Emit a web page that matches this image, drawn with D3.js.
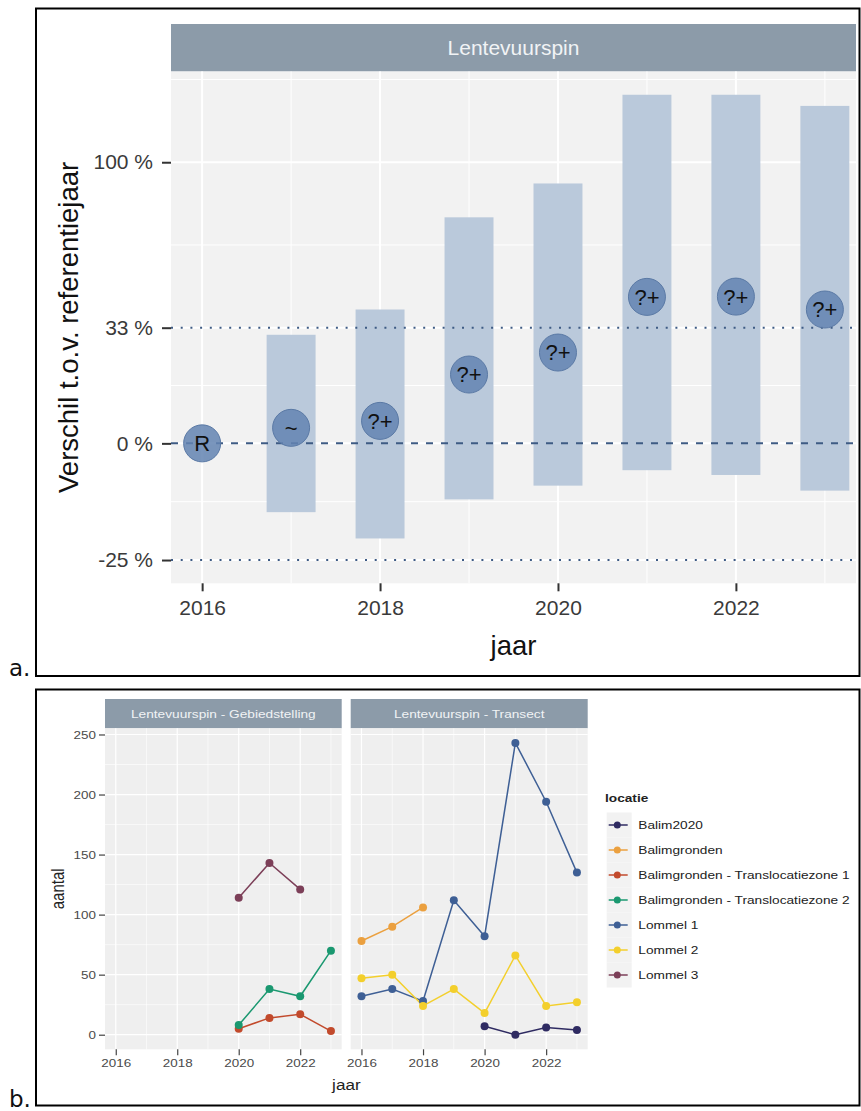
<!DOCTYPE html>
<html>
<head>
<meta charset="utf-8">
<script src="https://cdn.jsdelivr.net/npm/d3@7"></script>
<style>
  body { margin: 0; background: #ffffff; }
  svg { display: block; font-family: "Liberation Sans", Arial, "Helvetica", sans-serif; }
</style>
</head>
<body>
<svg id="fig" width="861" height="1111"></svg>
<script>
// ---------- Panel a: trend relative to reference year ----------
const trendYears    = [2016, 2017, 2018, 2019, 2020, 2021, 2022, 2023];
const trendEstimate = [0, 0.039, 0.057, 0.185, 0.251, 0.435, 0.436, 0.391];
const trendLower    = [null, -0.156, -0.209, -0.129, -0.099, -0.064, -0.075, -0.110];
const trendUpper    = [null, 0.307, 0.391, 0.746, 0.898, 1.362, 1.362, 1.298];
const trendClass    = ["R", "~", "?+", "?+", "?+", "?+", "?+", "?+"];
const refLineValues = [-0.25, 0, 0.33];
const refLineTypes  = ["dotted", "dashed", "dotted"];
const pctTickValues = [-0.25, 0, 0.33, 1];
const pctTickLabels = ["-25 %", "0 %", "33 %", "100 %"];
const yearTicks     = [2016, 2018, 2020, 2022];
const yearMinor     = [2017, 2019, 2021, 2023];

// ---------- Panel b: counts per location ----------
const facetNames = ["Lentevuurspin - Gebiedstelling", "Lentevuurspin - Transect"];
const locaties = ["Balim2020", "Balimgronden", "Balimgronden - Translocatiezone 1",
                  "Balimgronden - Translocatiezone 2", "Lommel 1", "Lommel 2", "Lommel 3"];
const locatieColors = ["#2f2b62", "#eba03f", "#c24a2c", "#1a9870", "#3e5f95", "#f3cf2c", "#7c3f58"];

const years2016to2023 = [2016, 2017, 2018, 2019, 2020, 2021, 2022, 2023];
const years2016to2018 = [2016, 2017, 2018];
const years2020to2023 = [2020, 2021, 2022, 2023];
const years2020to2022 = [2020, 2021, 2022];

const balim2020Aantal    = [7, 0, 6, 4];                        // Transect
const balimgrondenAantal = [78, 90, 106];                       // Transect
const zone1Aantal        = [5, 14, 17, 3];                      // Gebiedstelling
const zone2Aantal        = [8, 38, 32, 70];                     // Gebiedstelling
const lommel1Aantal      = [32, 38, 28, 112, 82, 243, 194, 135];// Transect
const lommel2Aantal      = [47, 50, 24, 38, 18, 66, 24, 27];    // Transect
const lommel3Aantal      = [114, 143, 121];                     // Gebiedstelling
const countTicks = [0, 50, 100, 150, 200, 250];
const countMinor = [25, 75, 125, 175, 225];

// series table built from the arrays above (facet index, location index)
const series = [
  { facet: 1, loc: 0, years: years2020to2023, values: balim2020Aantal },
  { facet: 1, loc: 1, years: years2016to2018, values: balimgrondenAantal },
  { facet: 0, loc: 2, years: years2020to2023, values: zone1Aantal },
  { facet: 0, loc: 3, years: years2020to2023, values: zone2Aantal },
  { facet: 1, loc: 4, years: years2016to2023, values: lommel1Aantal },
  { facet: 1, loc: 5, years: years2016to2023, values: lommel2Aantal },
  { facet: 0, loc: 6, years: years2020to2022, values: lommel3Aantal }
];

// ---------- helpers ----------
const svg = d3.select("#fig");
const expand = ([a, b], f = 0.05) => { const d = (b - a) * f; return [a - d, b + d]; };
const STRIP = "#8c9ba9";
const STRIP_TXT = "#f1f3f5";
const TXT = "#3a3a3a";

// ============================================================
// Panel a
// ============================================================
const A = { left: 171, right: 856, top: 71.5, bottom: 583.3, stripTop: 24 };
const gA = svg.append("g");

const xA = d3.scaleLinear().domain(expand([2016, 2023])).range([A.left, A.right]);
const ratioLn = trendLower.concat(trendUpper, refLineValues, trendEstimate)
  .filter(v => v !== null).map(v => Math.log(1 + v));
const lnDom = expand(d3.extent(ratioLn));
const yA = d3.scaleLog().domain(lnDom.map(Math.exp)).range([A.bottom, A.top]);
const yPct = v => yA(1 + v);

// strip + panel background
gA.append("rect").attr("x", A.left).attr("y", A.stripTop)
  .attr("width", A.right - A.left).attr("height", A.top - A.stripTop).attr("fill", STRIP);
gA.append("text").attr("x", (A.left + A.right) / 2).attr("y", (A.stripTop + A.top) / 2)
  .attr("dy", "0.36em").attr("text-anchor", "middle")
  .attr("font-size", 21).attr("fill", STRIP_TXT).text("Lentevuurspin");
gA.append("rect").attr("x", A.left).attr("y", A.top)
  .attr("width", A.right - A.left).attr("height", A.bottom - A.top).attr("fill", "#f2f2f2");

// grid: minor (midpoints on the log scale) then major
const lnTicks = pctTickValues.map(v => Math.log(1 + v));
const lnMinor = [];
for (let i = 0; i < lnTicks.length - 1; i++) lnMinor.push((lnTicks[i] + lnTicks[i + 1]) / 2);
lnMinor.push(lnTicks[lnTicks.length - 1] + (lnTicks[lnTicks.length - 1] - lnTicks[lnTicks.length - 2]) / 2);
const grid = gA.append("g");
grid.selectAll(".hmin").data(lnMinor.filter(l => l > lnDom[0] && l < lnDom[1])).join("line")
  .attr("x1", A.left).attr("x2", A.right)
  .attr("y1", l => yA(Math.exp(l))).attr("y2", l => yA(Math.exp(l)))
  .attr("stroke", "#ffffff").attr("stroke-width", 1);
grid.selectAll(".vmin").data(yearMinor).join("line")
  .attr("x1", d => xA(d)).attr("x2", d => xA(d)).attr("y1", A.top).attr("y2", A.bottom)
  .attr("stroke", "#ffffff").attr("stroke-width", 1);
grid.selectAll(".hmaj").data(pctTickValues).join("line")
  .attr("x1", A.left).attr("x2", A.right).attr("y1", d => yPct(d)).attr("y2", d => yPct(d))
  .attr("stroke", "#ffffff").attr("stroke-width", 2);
grid.selectAll(".vmaj").data(yearTicks).join("line")
  .attr("x1", d => xA(d)).attr("x2", d => xA(d)).attr("y1", A.top).attr("y2", A.bottom)
  .attr("stroke", "#ffffff").attr("stroke-width", 2);

// interval bars
const halfW = 0.275;
const trendRows = trendYears.map((yr, i) => ({
  yr, est: trendEstimate[i], lo: trendLower[i], hi: trendUpper[i], cls: trendClass[i]
}));
gA.append("g").selectAll("rect").data(trendRows.filter(d => d.lo !== null)).join("rect")
  .attr("x", d => xA(d.yr - halfW))
  .attr("width", d => xA(d.yr + halfW) - xA(d.yr - halfW))
  .attr("y", d => yPct(d.hi))
  .attr("height", d => yPct(d.lo) - yPct(d.hi))
  .attr("fill", "#b6c6d9").attr("fill-opacity", 0.95);

// reference lines, drawn over the bars
const dashFor = { dotted: "2,7.7", dashed: "7,8" };
gA.append("g").selectAll("line").data(refLineValues).join("line")
  .attr("x1", A.left).attr("x2", A.right)
  .attr("y1", d => yPct(d)).attr("y2", d => yPct(d))
  .attr("stroke", "#3e5b84").attr("stroke-width", 2)
  .attr("stroke-dasharray", (d, i) => dashFor[refLineTypes[i]]);

// estimate circles with class labels
const pts = gA.append("g").selectAll("g").data(trendRows).join("g")
  .attr("transform", d => `translate(${xA(d.yr)},${yPct(d.est)})`);
pts.append("circle").attr("r", 18.5)
  .attr("fill", "#6384b2").attr("fill-opacity", 0.85)
  .attr("stroke", "#5a79a5").attr("stroke-width", 1);
pts.append("text").attr("text-anchor", "middle").attr("dy", "0.36em")
  .attr("font-size", 22).attr("fill", "#111").text(d => d.cls);

// axes
const axYA = gA.append("g").attr("transform", `translate(${A.left},0)`)
  .call(d3.axisLeft(yA).tickValues(pctTickValues.map(v => 1 + v))
    .tickFormat((d, i) => pctTickLabels[i]).tickSize(9).tickPadding(9));
const axXA = gA.append("g").attr("transform", `translate(0,${A.bottom})`)
  .call(d3.axisBottom(xA).tickValues(yearTicks).tickFormat(d3.format("d"))
    .tickSize(8).tickPadding(9));
[axYA, axXA].forEach(ax => {
  ax.select(".domain").remove();
  ax.selectAll(".tick line").attr("stroke", "#333").attr("stroke-width", 2);
  ax.selectAll(".tick text").attr("font-size", 21).attr("fill", TXT)
    .attr("font-family", "'Liberation Sans', Arial, sans-serif");
});

gA.append("text").attr("x", (A.left + A.right) / 2).attr("y", 655)
  .attr("text-anchor", "middle").attr("font-size", 27.5).attr("fill", "#111").text("jaar");
gA.append("text").attr("transform", `translate(78,${(A.top + A.bottom) / 2}) rotate(-90)`)
  .attr("text-anchor", "middle").attr("font-size", 27.5).attr("fill", "#111")
  .text("Verschil t.o.v. referentiejaar");

// ============================================================
// Panel b (this figure is slightly stretched horizontally)
// ============================================================
const SX = 1.18;
const B = { top: 728.3, bottom: 1049.3, stripTop: 699 };
const facetX = [[105, 341.7], [350.7, 587.7]];
const gB = svg.append("g");
const yB = d3.scaleLinear().domain(expand([0, d3.max(series, s => d3.max(s.values))]))
  .range([B.bottom, B.top]);

function sText(sel, x, y, size) {
  return sel.append("text")
    .attr("transform", `translate(${x},${y}) scale(${SX},1)`)
    .attr("font-size", size);
}

facetNames.forEach((name, fi) => {
  const [x0, x1] = facetX[fi];
  const xB = d3.scaleLinear().domain(expand([2016, 2023])).range([x0, x1]);
  const g = gB.append("g");
  g.append("rect").attr("x", x0).attr("y", B.stripTop).attr("width", x1 - x0)
    .attr("height", B.top - B.stripTop).attr("fill", STRIP);
  sText(g, (x0 + x1) / 2, (B.stripTop + B.top) / 2, 11.6)
    .attr("text-anchor", "middle").attr("dy", "0.36em").attr("fill", STRIP_TXT).text(name);
  g.append("rect").attr("x", x0).attr("y", B.top).attr("width", x1 - x0)
    .attr("height", B.bottom - B.top).attr("fill", "#efefef");
  // grid
  g.selectAll(".hm").data(countMinor).join("line")
    .attr("x1", x0).attr("x2", x1).attr("y1", d => yB(d)).attr("y2", d => yB(d))
    .attr("stroke", "#fff").attr("stroke-width", 0.6);
  g.selectAll(".vm").data(yearMinor).join("line")
    .attr("x1", d => xB(d)).attr("x2", d => xB(d)).attr("y1", B.top).attr("y2", B.bottom)
    .attr("stroke", "#fff").attr("stroke-width", 0.6);
  g.selectAll(".hM").data(countTicks).join("line")
    .attr("x1", x0).attr("x2", x1).attr("y1", d => yB(d)).attr("y2", d => yB(d))
    .attr("stroke", "#fff").attr("stroke-width", 1.2);
  g.selectAll(".vM").data(yearTicks).join("line")
    .attr("x1", d => xB(d)).attr("x2", d => xB(d)).attr("y1", B.top).attr("y2", B.bottom)
    .attr("stroke", "#fff").attr("stroke-width", 1.2);

  // lines then points, in location order
  const fs = series.filter(s => s.facet === fi);
  const line = d3.line().x(d => xB(d[0])).y(d => yB(d[1]));
  fs.forEach(s => {
    g.append("path").datum(s.years.map((yr, i) => [yr, s.values[i]]))
      .attr("d", line).attr("fill", "none")
      .attr("stroke", locatieColors[s.loc]).attr("stroke-width", 1.5);
  });
  fs.forEach(s => {
    g.append("g").selectAll("circle").data(s.years.map((yr, i) => [yr, s.values[i]])).join("circle")
      .attr("cx", d => xB(d[0])).attr("cy", d => yB(d[1])).attr("r", 4)
      .attr("fill", locatieColors[s.loc]);
  });

  // x axis
  const ax = g.append("g").attr("transform", `translate(0,${B.bottom})`)
    .call(d3.axisBottom(xB).tickValues(yearTicks).tickFormat(d3.format("d")).tickSize(6).tickPadding(4));
  ax.select(".domain").remove();
  ax.selectAll(".tick line").attr("stroke", "#444").attr("stroke-width", 1.2);
  ax.selectAll(".tick text").attr("font-size", 11.4).attr("fill", "#4a4a4a")
    .attr("transform", `scale(${SX},1)`)
    .attr("font-family", "'Liberation Sans', Arial, sans-serif");
});

// y axis (left facet only)
const axYB = gB.append("g").attr("transform", `translate(${facetX[0][0]},0)`)
  .call(d3.axisLeft(yB).tickValues(countTicks).tickSize(6).tickPadding(3));
axYB.select(".domain").remove();
axYB.selectAll(".tick line").attr("stroke", "#444").attr("stroke-width", 1.2);
axYB.selectAll(".tick text").attr("font-size", 11.4).attr("fill", "#4a4a4a")
  .attr("x", -9 / SX).attr("transform", `scale(${SX},1)`)
  .attr("font-family", "'Liberation Sans', Arial, sans-serif");

// axis titles
sText(gB, (facetX[0][0] + facetX[1][1]) / 2, 1090, 14.5)
  .attr("text-anchor", "middle").attr("fill", "#222").text("jaar");
gB.append("text")
  .attr("transform", `translate(63.5,${(B.top + B.bottom) / 2}) scale(${SX},1) rotate(-90)`)
  .attr("text-anchor", "middle").attr("font-size", 15).attr("fill", "#222").text("aantal");

// legend
const L = { x: 606.7, y: 812.5, key: 25, keyW: 25 };
const gL = gB.append("g");
sText(gL, 605, 802, 11.6).attr("font-weight", "bold").attr("fill", "#222").text("locatie");
locaties.forEach((name, i) => {
  const cy = L.y + i * L.key + L.key / 2;
  gL.append("rect").attr("x", L.x).attr("y", L.y + i * L.key)
    .attr("width", L.keyW).attr("height", L.key).attr("fill", "#f2f2f2");
  gL.append("line").attr("x1", L.x + 2).attr("x2", L.x + L.keyW - 4)
    .attr("y1", cy).attr("y2", cy)
    .attr("stroke", locatieColors[i]).attr("stroke-width", 1.5);
  gL.append("circle").attr("cx", L.x + 10.6).attr("cy", cy).attr("r", 3.5)
    .attr("fill", locatieColors[i]);
  sText(gL, 638.3, cy, 11.6).attr("dy", "0.36em").attr("fill", "#222").text(name);
});

// ---------- figure frames and panel letters ----------
const frames = svg.append("g");
frames.append("rect").attr("x", 36).attr("y", 8.5).attr("width", 823.5).attr("height", 667.5)
  .attr("fill", "none").attr("stroke", "#000").attr("stroke-width", 2);
frames.append("rect").attr("x", 36).attr("y", 689.5).attr("width", 823.5).attr("height", 416)
  .attr("fill", "none").attr("stroke", "#000").attr("stroke-width", 2);
frames.append("text").attr("x", 9).attr("y", 676).attr("font-size", 23)
  .attr("font-family", "'DejaVu Sans', Verdana, sans-serif").attr("fill", "#111").text("a.");
frames.append("text").attr("x", 9).attr("y", 1107).attr("font-size", 23)
  .attr("font-family", "'DejaVu Sans', Verdana, sans-serif").attr("fill", "#111").text("b.");
</script>
</body>
</html>
